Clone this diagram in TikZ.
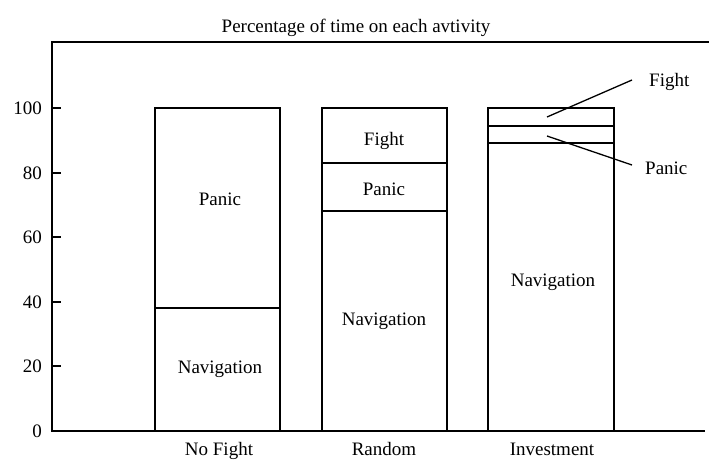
\documentclass[tikz,border=0pt]{standalone}
\usepackage{fontspec}
\setmainfont{Liberation Serif}
\begin{document}
\begin{tikzpicture}[x=1pt,y=-1pt,
  axisline/.style={line width=1.6pt},
  barline/.style={line width=1.6pt},
  lbl/.style={font=\fontsize{19}{22}\selectfont, inner sep=1pt},
  leader/.style={line width=1.3pt}]
\useasboundingbox (0,0) rectangle (709,463);

% title
\node[lbl, anchor=base] (title) at (356,32) {Percentage of time on each avtivity};

% frame
\draw[axisline] (709,42) -- (52,42) -- (52,431) -- (705,431);

% ticks and tick labels (value v sits at y = 431 - 3.23 v)
\foreach \v/\y in {0/431,20/366,40/302,60/237,80/173,100/108}{
  \draw[axisline] (52,\y) -- (61,\y);
  \node[lbl, anchor=east] (t\v) at (43,\y) {\v};
}

% No Fight bar
\draw[barline] (155,431) rectangle (280,108);
\draw[barline] (155,308) -- (280,308);
\node[lbl] (nfpanic) at (220,199) {Panic};
\node[lbl] (nfnav) at (220,369) {Navigation};

% Random bar
\draw[barline] (322,431) rectangle (447,108);
\draw[barline] (322,163) -- (447,163);
\draw[barline] (322,211) -- (447,211);
\node[lbl] (rfight) at (384,141) {Fight};
\node[lbl] (rpanic) at (384,189) {Panic};
\node[lbl] (rnav) at (384,321) {Navigation};

% Investment bar
\draw[barline] (488,431) rectangle (614,108);
\draw[barline] (488,126) -- (614,126);
\draw[barline] (488,143) -- (614,143);
\node[lbl] (inav) at (553,282) {Navigation};

% leader labels for the thin segments
\node[lbl, anchor=west] (ifight) at (648,82) {Fight};
\node[lbl, anchor=west] (ipanic) at (644,168) {Panic};
\coordinate (fightend) at (632,80);
\coordinate (panicend) at (632,165);
\draw[leader] (547,117) -- (fightend);
\draw[leader] (547,136) -- (panicend);

% category labels
\node[lbl, anchor=base] (cat1) at (219,455) {No Fight};
\node[lbl, anchor=base] (cat2) at (384,455) {Random};
\node[lbl, anchor=base] (cat3) at (552,455) {Investment};
\end{tikzpicture}
\end{document}
